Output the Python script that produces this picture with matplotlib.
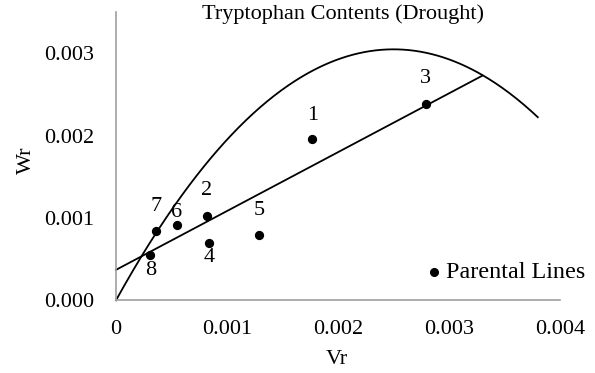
import numpy as np
import matplotlib
matplotlib.use("Agg")
import matplotlib.pyplot as plt

plt.rcParams['font.family'] = ['Liberation Serif', 'DejaVu Serif']

# Data
labels = ['1', '2', '3', '4', '5', '6', '7', '8']
vr = [0.00177, 0.00082, 0.00279, 0.00084, 0.00129, 0.00055, 0.00036, 0.00031]
wr = [0.00196, 0.00103, 0.00239, 0.00070, 0.00079, 0.00092, 0.00084, 0.00055]

# label offsets (points) for numbers
label_dx = [0, 0, 0, 0, 0, 0, 0, 0]
label_dy = [17, 18, 18, -10.5, 18, 9, 18, -11]

# regression line Wr = a + b*Vr
reg_intercept = 0.00037
reg_slope = 0.715
reg_xmax = 0.0033

# limiting parabola Wr = p1*Vr + p2*Vr^2
par_p1 = 2.44
par_p2 = -488.0
par_xmax = 0.0038

xticks = [0, 0.001, 0.002, 0.003, 0.004]
xticklabels = ['0', '0.001', '0.002', '0.003', '0.004']
yticks = [0, 0.001, 0.002, 0.003]
yticklabels = ['0.000', '0.001', '0.002', '0.003']

FS = 16

fig = plt.figure(figsize=(5.95, 3.73), dpi=100)
ax = fig.add_axes([116/595, 1-300.3/373, (560-116)/595, (300.3-12.3)/373])

xs = np.linspace(0, par_xmax, 300)
ax.plot(xs, par_p1*xs + par_p2*xs**2, color='black', lw=1.3, clip_on=False)
xr = np.array([0, reg_xmax])
ax.plot(xr, reg_intercept + reg_slope*xr, color='black', lw=1.3, clip_on=False)

ax.scatter(vr, wr, s=32, color='black', zorder=3, clip_on=False)
for lab, x, y, dx, dy in zip(labels, vr, wr, label_dx, label_dy):
    ax.annotate(lab, (x, y), xytext=(dx, dy), textcoords='offset points',
                ha='center', va='center', fontsize=FS)

ax.set_xlim(0, 0.004)
ax.set_ylim(0, 0.0035)
ax.set_xticks(xticks)
ax.set_xticklabels(xticklabels)
ax.set_yticks(yticks)
ax.set_yticklabels(yticklabels)
ax.tick_params(length=0, labelsize=FS)
ax.tick_params(axis='x', pad=14)
ax.tick_params(axis='y', pad=16)
for s in ['top', 'right']:
    ax.spines[s].set_visible(False)
for s in ['left', 'bottom']:
    ax.spines[s].set_color('#a0a0a0')
    ax.spines[s].set_linewidth(1.2)

fig.text(343/595, 1-14/373, 'Tryptophan Contents (Drought)', ha='center', va='center', fontsize=FS)
fig.text(26/595, 1-160/373, 'Wr', rotation=90, ha='center', va='center', fontsize=FS)
fig.text(337/595, 1-359/373, 'Vr', ha='center', va='center', fontsize=FS)

# legend
fig.text(446/595, 1-272/373, 'Parental Lines', ha='left', va='center', fontsize=17.4)
fig.lines.append(plt.Line2D([434/595], [1-272/373], marker='o', markersize=5.5,
                            color='black', transform=fig.transFigure))

fig.savefig('out.png', dpi=100)
